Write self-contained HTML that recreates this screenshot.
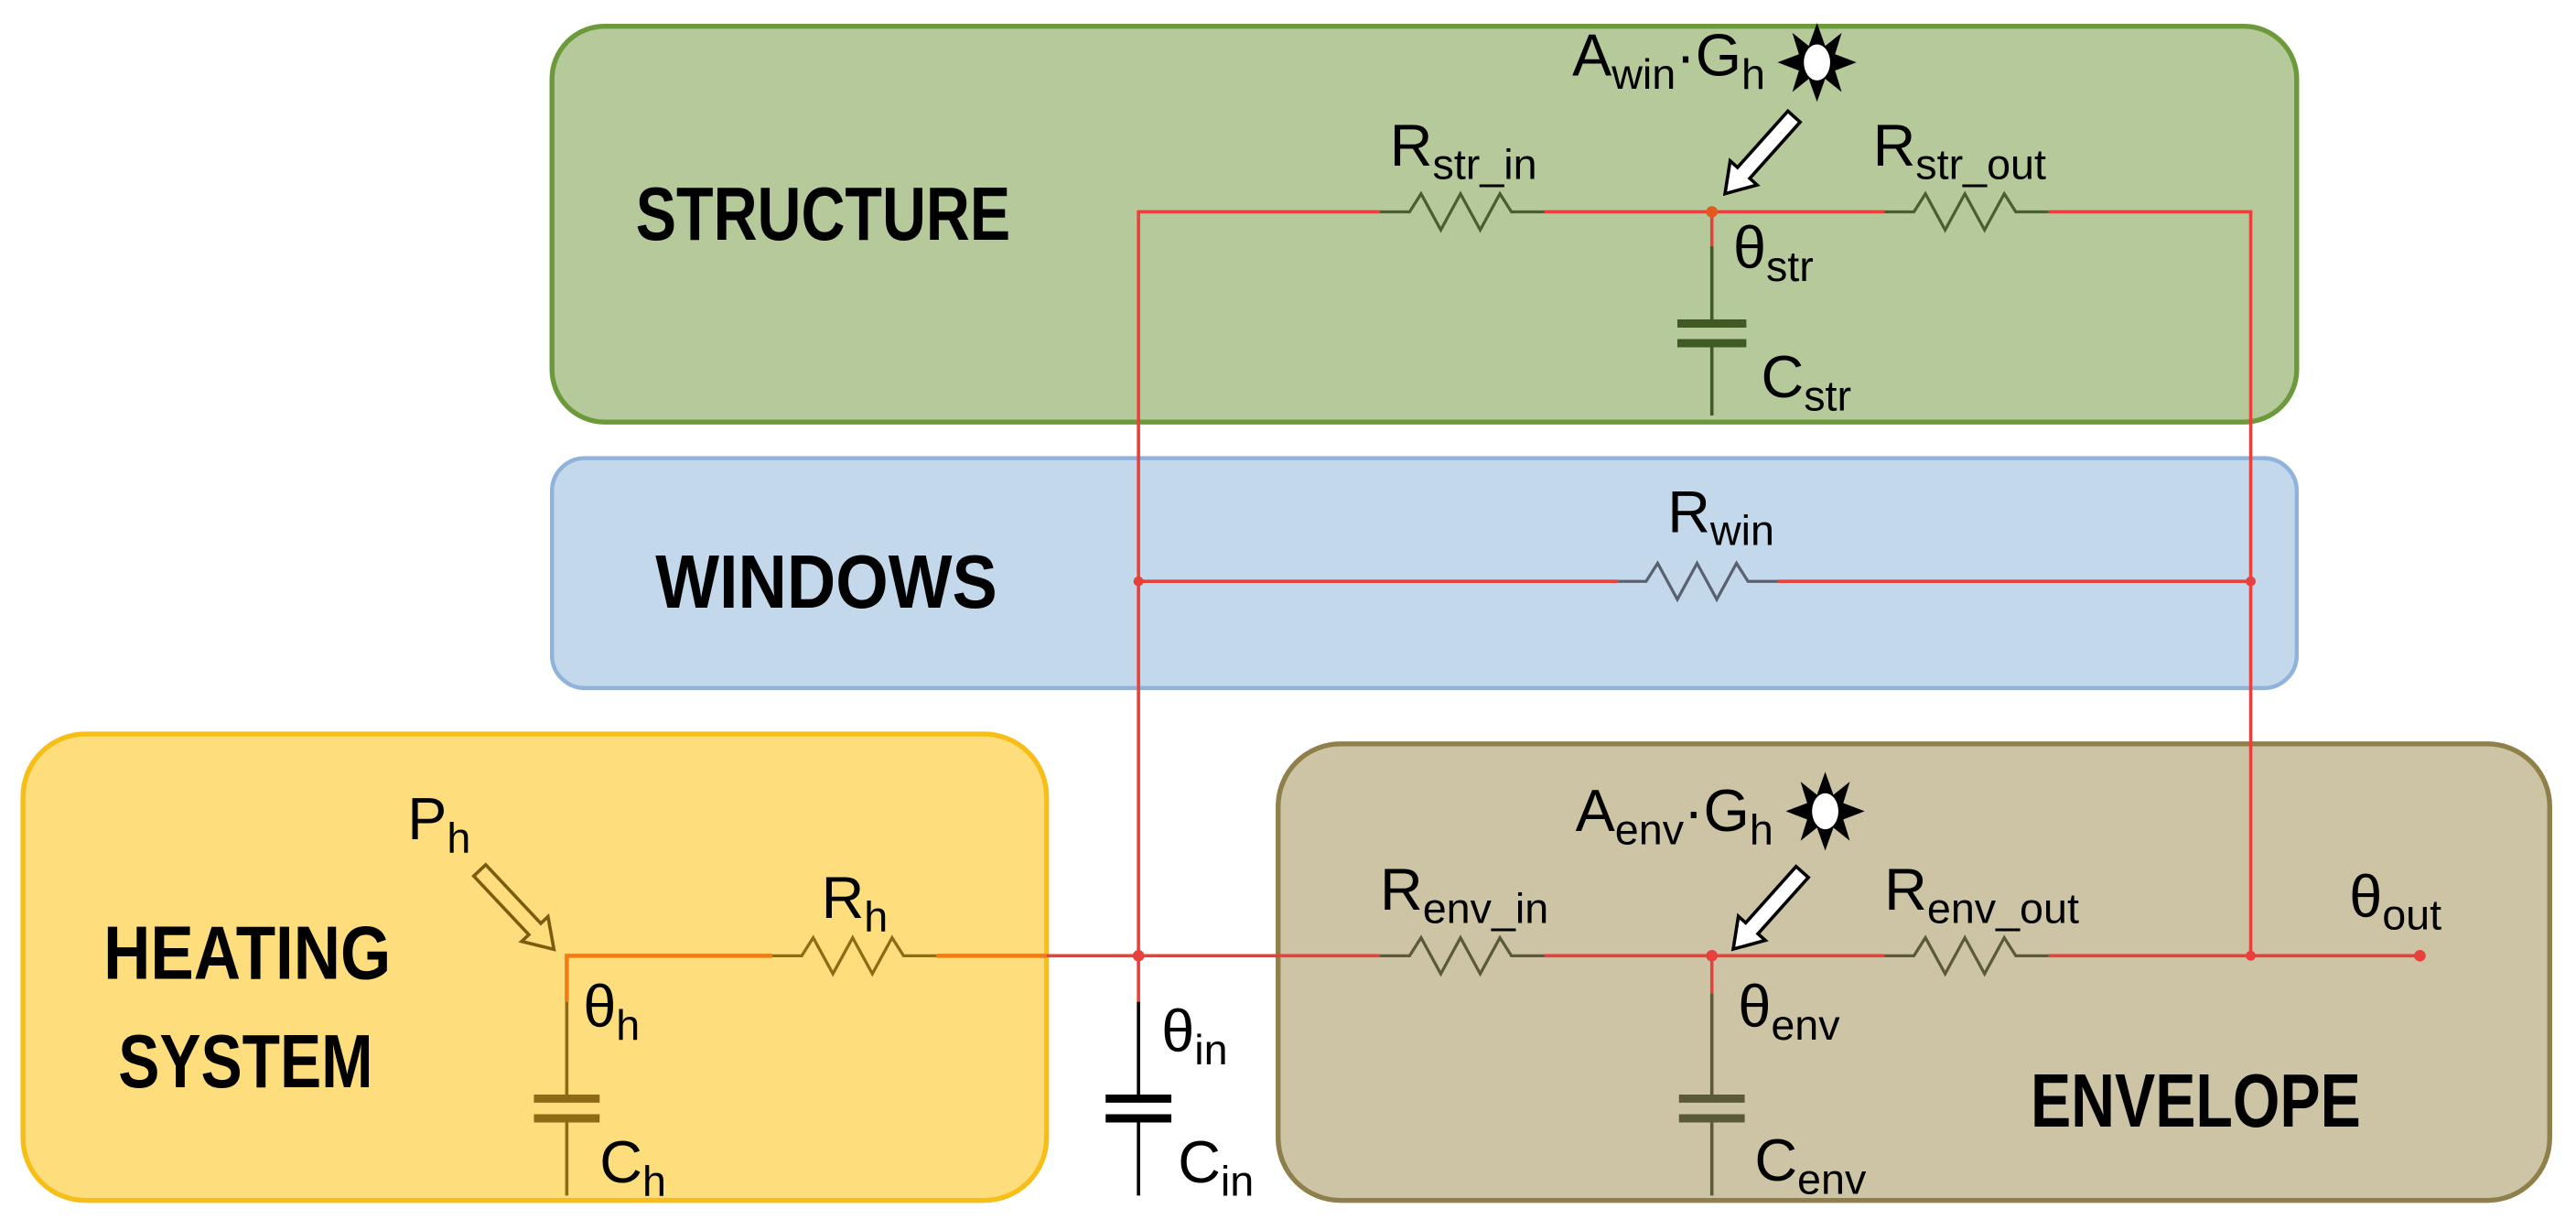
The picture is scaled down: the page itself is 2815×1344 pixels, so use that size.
<!DOCTYPE html>
<html><head><meta charset="utf-8"><style>
html,body{margin:0;padding:0;background:#fff;}
svg{display:block;}
text{font-family:"Liberation Sans",sans-serif;fill:#000;}
.t{font-size:36px;}
.s{font-size:26px;}
.b{font-size:46px;font-weight:bold;}
</style></head><body>
<svg width="2815" height="1344" viewBox="0 0 1568 749" preserveAspectRatio="none" xmlns="http://www.w3.org/2000/svg">
<defs>
<g id="sun">
<polygon points="0,-24 5,-10 15,-18 11,-5 24,0 11,5 15,18 5,10 0,24 -5,10 -15,18 -11,5 -24,0 -11,-5 -15,-18 -5,-10" fill="#000"/>
<ellipse cx="0" cy="0" rx="8" ry="11" fill="#fff"/>
</g>
</defs>
<rect x="336" y="16" width="1062" height="241" rx="32" fill="#b5c99a" stroke="#6c9a3a" stroke-width="3"/>
<rect x="336" y="279" width="1062" height="140" rx="20" fill="#c4d8ec" stroke="#8fb3db" stroke-width="2.5"/>
<rect x="14" y="447" width="623" height="284" rx="38" fill="#fddd7c" stroke="#f6be17" stroke-width="3"/>
<rect x="778" y="453" width="774" height="278" rx="38" fill="#cdc4a6" stroke="#8f7f4a" stroke-width="3"/>

<g stroke="#e8403a" stroke-width="2" fill="none">
<polyline points="693,582 693,129 840,129"/>
<line x1="940" y1="129" x2="1147" y2="129"/>
<polyline points="1247,129 1370,129 1370,582"/>
<line x1="693" y1="354" x2="985" y2="354"/>
<line x1="1082" y1="354" x2="1370" y2="354"/>
<line x1="637" y1="582" x2="840" y2="582"/>
<line x1="940" y1="582" x2="1147" y2="582"/>
<line x1="1247" y1="582" x2="1473" y2="582"/>
<line x1="1042" y1="129" x2="1042" y2="150"/>
<line x1="1042" y1="582" x2="1042" y2="605"/>
<line x1="693" y1="582" x2="693" y2="610"/>
</g>
<g stroke="#f07c12" stroke-width="2.5" fill="none">
<polyline points="345,610 345,582 470,582"/>
<line x1="570" y1="582" x2="637" y2="582"/>
</g>
<g fill="#e8403a">
<circle cx="693" cy="354" r="3"/><circle cx="1370" cy="354" r="3"/>
<circle cx="693" cy="582" r="3.5"/><circle cx="1042" cy="582" r="3.5"/>
<circle cx="1370" cy="582" r="3"/><circle cx="1473" cy="582" r="3.5"/>
<circle cx="1042" cy="129" r="3.5" fill="#e05a20"/>
</g>
<g fill="none" stroke-width="1.8">
<polyline stroke="#4a5e30" points="840,129 858,129 865,118 877,140 889,118 901,140 913,118 920,129 940,129"/>
<polyline stroke="#4a5e30" points="1147,129 1165,129 1172,118 1184,140 1196,118 1208,140 1220,118 1227,129 1247,129"/>
<polyline stroke="#5a6070" points="985,354 1002,354 1009,343 1021,365 1033,343 1045,365 1057,343 1064,354 1082,354"/>
<polyline stroke="#5a5a3a" points="840,582 858,582 865,571 877,593 889,571 901,593 913,571 920,582 940,582"/>
<polyline stroke="#5a5a3a" points="1147,582 1165,582 1172,571 1184,593 1196,571 1208,593 1220,571 1227,582 1247,582"/>
<polyline stroke="#8b6b14" points="470,582 488,582 495,571 507,593 519,571 531,593 543,571 550,582 570,582"/>
</g>
<g stroke-width="2">
<line x1="1042" y1="150" x2="1042" y2="197" stroke="#3f5a22"/>
<line x1="1042" y1="209" x2="1042" y2="253" stroke="#3f5a22"/>
<line x1="1021" y1="197" x2="1063" y2="197" stroke="#3f5a22" stroke-width="5"/>
<line x1="1021" y1="209" x2="1063" y2="209" stroke="#3f5a22" stroke-width="5"/>
<line x1="345" y1="610" x2="345" y2="669" stroke="#8b6b14"/>
<line x1="345" y1="681" x2="345" y2="728" stroke="#8b6b14"/>
<line x1="325" y1="669" x2="365" y2="669" stroke="#8b6b14" stroke-width="5"/>
<line x1="325" y1="681" x2="365" y2="681" stroke="#8b6b14" stroke-width="5"/>
<line x1="693" y1="610" x2="693" y2="669" stroke="#000"/>
<line x1="693" y1="681" x2="693" y2="728" stroke="#000"/>
<line x1="673" y1="669" x2="713" y2="669" stroke="#000" stroke-width="5"/>
<line x1="673" y1="681" x2="713" y2="681" stroke="#000" stroke-width="5"/>
<line x1="1042" y1="605" x2="1042" y2="669" stroke="#5a5a3a"/>
<line x1="1042" y1="681" x2="1042" y2="728" stroke="#5a5a3a"/>
<line x1="1022" y1="669" x2="1062" y2="669" stroke="#5a5a3a" stroke-width="5"/>
<line x1="1022" y1="681" x2="1062" y2="681" stroke="#5a5a3a" stroke-width="5"/>
</g>
<g transform="translate(1092,71) rotate(131.8)">
<polygon points="0,-5 46,-5 46,-11 63,0 46,11 46,5 0,5" fill="#fff" stroke="#000" stroke-width="2"/>
</g>
<g transform="translate(1097,531) rotate(131.8)">
<polygon points="0,-5 46,-5 46,-11 63,0 46,11 46,5 0,5" fill="#fff" stroke="#000" stroke-width="2"/>
</g>
<g transform="translate(292,530) rotate(46.8)">
<polygon points="0,-5 49,-5 49,-11 66,0 49,11 49,5 0,5" fill="#fddd7c" stroke="#7a5c10" stroke-width="2"/>
</g>
<use href="#sun" x="1106" y="38"/>
<use href="#sun" x="1111" y="494"/>

<text class="b" x="387" y="146" textLength="228" lengthAdjust="spacingAndGlyphs">STRUCTURE</text>
<text class="b" x="399" y="370" textLength="208" lengthAdjust="spacingAndGlyphs">WINDOWS</text>
<text class="b" x="63" y="596" textLength="175" lengthAdjust="spacingAndGlyphs">HEATING</text>
<text class="b" x="72" y="662" textLength="155" lengthAdjust="spacingAndGlyphs">SYSTEM</text>
<text class="b" x="1236" y="686" textLength="201" lengthAdjust="spacingAndGlyphs">ENVELOPE</text>

<text class="t" x="957" y="46">A<tspan class="s" dy="8">win</tspan><tspan dy="-8">·G</tspan><tspan class="s" dy="8">h</tspan></text>
<text class="t" x="846" y="101">R<tspan class="s" dy="8">str_in</tspan></text>
<text class="t" x="1140" y="101">R<tspan class="s" dy="8">str_out</tspan></text>
<text class="t" x="1055" y="163">θ<tspan class="s" dy="8">str</tspan></text>
<text class="t" x="1072" y="242">C<tspan class="s" dy="8">str</tspan></text>
<text class="t" x="1015" y="324">R<tspan class="s" dy="8">win</tspan></text>
<text class="t" x="248" y="511">P<tspan class="s" dy="8">h</tspan></text>
<text class="t" x="500" y="559">R<tspan class="s" dy="8">h</tspan></text>
<text class="t" x="355" y="625">θ<tspan class="s" dy="8">h</tspan></text>
<text class="t" x="365" y="720">C<tspan class="s" dy="8">h</tspan></text>
<text class="t" x="707" y="640">θ<tspan class="s" dy="8">in</tspan></text>
<text class="t" x="717" y="720">C<tspan class="s" dy="8">in</tspan></text>
<text class="t" x="959" y="506">A<tspan class="s" dy="8">env</tspan><tspan dy="-8">·G</tspan><tspan class="s" dy="8">h</tspan></text>
<text class="t" x="840" y="554">R<tspan class="s" dy="8">env_in</tspan></text>
<text class="t" x="1147" y="554">R<tspan class="s" dy="8">env_out</tspan></text>
<text class="t" x="1430" y="558">θ<tspan class="s" dy="8">out</tspan></text>
<text class="t" x="1058" y="625">θ<tspan class="s" dy="8">env</tspan></text>
<text class="t" x="1068" y="719">C<tspan class="s" dy="8">env</tspan></text>
</svg>
</body></html>
